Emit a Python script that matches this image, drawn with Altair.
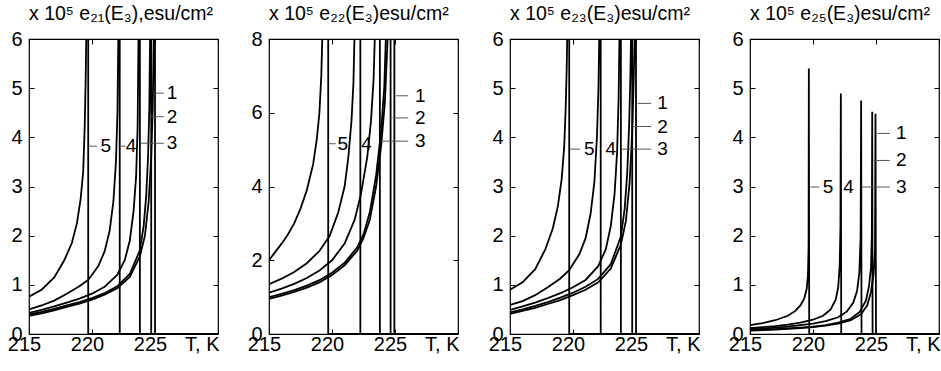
import altair as alt
import pandas as pd

FONT = "Liberation Sans"
T_MIN, T_MAX = 215, 230
X_TICKS = [215, 220, 225, 230]

# ---------------- panel 1 : e21 ----------------
E21_TITLE = "x 10⁵ e₂₁(E₃),esu/cm²"
E21_YMAX = 6
E21_YTICKS = [0, 1, 2, 3, 4, 5, 6]
E21_TC = [225.0, 224.7, 223.8, 222.2, 219.7]          # curves 1..5
e21_c1 = [(215, 0.37), (216, 0.42), (217, 0.48), (218, 0.55), (219, 0.62), (220, 0.70), (221, 0.80), (222, 0.93),
          (223, 1.16), (223.8, 1.58), (224.2, 2.0), (224.5, 2.7), (224.7, 3.6), (224.82, 4.6), (224.92, 6.3)]
e21_c2 = [(215, 0.40), (216, 0.45), (217, 0.51), (218, 0.58), (219, 0.65), (220, 0.73), (221, 0.83), (222, 0.97),
          (223, 1.22), (223.8, 1.7), (224.1, 2.2), (224.3, 2.8), (224.45, 3.6), (224.55, 4.6), (224.62, 6.3)]
e21_c3 = [(215, 0.43), (216, 0.49), (217, 0.56), (218, 0.64), (219, 0.72), (220, 0.82), (221, 0.96), (222, 1.2),
          (222.6, 1.5), (223.0, 1.9), (223.3, 2.5), (223.5, 3.2), (223.62, 4.2), (223.7, 6.3)]
e21_c4 = [(215, 0.50), (216, 0.58), (217, 0.68), (218, 0.82), (219, 0.97), (219.7, 1.1), (220.5, 1.38), (221, 1.68),
          (221.4, 2.1), (221.7, 2.7), (221.9, 3.5), (222.02, 4.5), (222.1, 6.3)]
e21_c5 = [(215, 0.76), (216, 0.90), (217, 1.15), (217.8, 1.5), (218.4, 1.85), (218.8, 2.25), (219.1, 2.75),
          (219.3, 3.3), (219.42, 4.2), (219.5, 5.2), (219.56, 6.3)]
# annotations: label, y, leader start, leader end, text x
E21_ANN = [("1", 4.90, 224.98, 225.7, 226.35), ("2", 4.42, 224.7, 225.7, 226.35), ("3", 3.88, 223.8, 225.7, 226.35),
           ("5", 3.82, 219.7, 220.4, 221.1), ("4", 3.82, 222.2, 222.65, 223.1)]

# ---------------- panel 2 : e22 ----------------
E22_TITLE = "x 10⁵   e₂₂(E₃)esu/cm²"
E22_YMAX = 8
E22_YTICKS = [0, 2, 4, 6, 8]
E22_TC = [224.95, 224.65, 223.8, 222.25, 219.7]
e22_c1 = [(215, 0.95), (216, 1.04), (217, 1.14), (218, 1.26), (219, 1.40), (220, 1.60), (221, 1.86), (222, 2.26),
          (222.5, 2.6), (223, 3.1), (223.5, 4.0), (223.9, 5.1), (224.2, 6.3), (224.45, 8.3)]
e22_c2 = [(215, 1.00), (216, 1.09), (217, 1.19), (218, 1.31), (219, 1.46), (220, 1.66), (221, 1.93), (222, 2.35),
          (222.5, 2.7), (223, 3.3), (223.5, 4.3), (223.9, 5.5), (224.15, 6.7), (224.3, 8.3)]
e22_c3 = [(215, 1.12), (216, 1.23), (217, 1.36), (218, 1.52), (219, 1.72), (220, 2.0), (221, 2.45), (221.8, 3.1),
          (222.3, 3.8), (222.8, 4.8), (223.1, 5.8), (223.3, 6.9), (223.42, 8.3)]
e22_c4 = [(215, 1.35), (216, 1.5), (217, 1.68), (218, 1.92), (219, 2.25), (219.8, 2.65), (220.5, 3.3), (221, 4.0),
          (221.3, 4.8), (221.55, 5.8), (221.7, 6.8), (221.8, 8.3)]
e22_c5 = [(215, 2.0), (216, 2.45), (216.5, 2.7), (217, 3.0), (217.5, 3.4), (218, 3.9), (218.5, 4.6), (218.8, 5.3),
          (219.0, 6.0), (219.15, 7.0), (219.25, 8.3)]
E22_ANN = [("1", 6.46, 225.1, 226.05, 227.0), ("2", 5.86, 224.8, 226.05, 227.0), ("3", 5.23, 223.9, 226.05, 227.0),
           ("5", 5.16, 219.75, 220.3, 220.86), ("4", 5.16, 222.25, 222.25, 222.75)]

# ---------------- panel 3 : e23 ----------------
E23_TITLE = "x 10⁵ e₂₃(E₃)esu/cm²"
E23_YMAX = 6
E23_YTICKS = [0, 1, 2, 3, 4, 5, 6]
E23_TC = [225.0, 224.7, 223.8, 222.2, 219.7]
e23_c1 = [(215, 0.41), (216, 0.47), (217, 0.53), (218, 0.61), (219, 0.69), (220, 0.79), (221, 0.90), (222, 1.05),
          (223, 1.33), (223.8, 1.82), (224.2, 2.3), (224.5, 3.1), (224.7, 4.1), (224.82, 5.2), (224.92, 6.3)]
e23_c2 = [(215, 0.44), (216, 0.50), (217, 0.57), (218, 0.65), (219, 0.74), (220, 0.84), (221, 0.96), (222, 1.12),
          (223, 1.42), (223.8, 1.98), (224.1, 2.55), (224.3, 3.25), (224.45, 4.2), (224.55, 5.2), (224.62, 6.3)]
e23_c3 = [(215, 0.49), (216, 0.56), (217, 0.64), (218, 0.73), (219, 0.83), (220, 0.95), (221, 1.1), (222, 1.38),
          (222.6, 1.72), (223.0, 2.2), (223.3, 2.85), (223.5, 3.7), (223.62, 4.8), (223.7, 6.3)]
e23_c4 = [(215, 0.59), (216, 0.67), (217, 0.79), (218, 0.95), (219, 1.13), (219.7, 1.3), (220.5, 1.62), (221, 1.95),
          (221.4, 2.45), (221.7, 3.1), (221.9, 4.0), (222.02, 5.0), (222.1, 6.3)]
e23_c5 = [(215, 0.90), (216, 1.05), (217, 1.32), (217.8, 1.72), (218.4, 2.15), (218.8, 2.6), (219.1, 3.15),
          (219.3, 3.8), (219.42, 4.6), (219.5, 5.4), (219.56, 6.3)]
E23_ANN = [("1", 4.69, 225.14, 226.2, 227.1), ("2", 4.22, 224.83, 226.2, 227.1), ("3", 3.76, 223.82, 226.2, 227.1),
           ("5", 3.76, 219.78, 220.58, 221.3), ("4", 3.76, 222.2, 222.2, 223.0)]

# ---------------- panel 4 : e25 ----------------
E25_TITLE = "x 10⁵ e₂₅(E₃)esu/cm²"
E25_YMAX = 6
E25_YTICKS = [0, 1, 2, 3, 4, 5, 6]
E25_TC = [225.0, 224.73, 223.85, 222.24, 219.7]
e25_c1 = [(215, 0.07), (217, 0.09), (219, 0.12), (220, 0.14), (221, 0.17), (222, 0.21), (223, 0.28), (223.8, 0.40),
          (224.3, 0.58), (224.6, 0.85), (224.8, 1.2), (224.92, 1.7), (224.96, 4.48)]
e25_c2 = [(215, 0.08), (217, 0.10), (219, 0.13), (220, 0.15), (221, 0.18), (222, 0.23), (223, 0.31), (223.7, 0.45),
          (224.2, 0.68), (224.45, 0.98), (224.6, 1.35), (224.67, 2.0), (224.7, 4.52)]
e25_c3 = [(215, 0.10), (216, 0.11), (217, 0.13), (218, 0.15), (219, 0.18), (220, 0.21), (221, 0.26), (222, 0.34),
          (222.7, 0.46), (223.2, 0.64), (223.5, 0.88), (223.68, 1.25), (223.78, 2.0), (223.82, 4.75)]
e25_c4 = [(215, 0.12), (216, 0.14), (217, 0.16), (218, 0.19), (219, 0.23), (220, 0.29), (220.8, 0.37), (221.4, 0.5),
          (221.8, 0.7), (222.0, 0.95), (222.12, 1.4), (222.18, 2.2), (222.21, 4.89)]
e25_c5 = [(215, 0.18), (216, 0.22), (217, 0.28), (218, 0.37), (218.6, 0.47), (219.0, 0.58), (219.3, 0.72),
          (219.5, 0.92), (219.6, 1.2), (219.65, 1.8), (219.67, 5.4)]
E25_ANN = [("1", 4.08, 225.1, 226.1, 227.0), ("2", 3.53, 224.8, 226.1, 227.0), ("3", 2.99, 223.86, 226.1, 227.0),
           ("5", 2.99, 219.8, 220.5, 221.2), ("4", 2.99, 222.24, 222.24, 222.82)]


def curves_frame(curves, tcs, ymax, diverging):
    rows = []
    for k, (pts, tc) in enumerate(zip(curves, tcs)):
        seq = list(pts)
        if diverging:
            seq.append((tc, ymax * 1.06))
        seq += [(tc, 0.0), (T_MAX, 0.0)]
        for i, (t, v) in enumerate(seq):
            rows.append({"curve": str(k + 1), "T": t, "v": v, "idx": i})
    return pd.DataFrame(rows)


def ann_frame(ann):
    return pd.DataFrame(ann, columns=["label", "y", "x0", "x1", "xt"])


def panel(title, ymax, yticks, cdf, adf):
    xs = alt.Scale(domain=[T_MIN, T_MAX], nice=False, zero=False)
    ys = alt.Scale(domain=[0, ymax], nice=False, zero=True)
    lab = dict(labelFont=FONT, labelFontSize=20, labelColor="black")
    x_axis = alt.Axis(values=X_TICKS, title=None, grid=False, domain=False, tickSize=5, offset=-5,
                      tickColor="black", labelPadding=0, labelFlush=False,
                      labelExpr="datum.value == 230 ? 'T, K' : datum.label",
                      labelAlign={"condition": {"test": "datum.value == 230", "value": "right"}, "value": "center"},
                      labelOffset={"condition": {"test": "datum.value == 230", "value": 1}, "value": -5},
                      **lab)
    y_axis = alt.Axis(values=yticks, title=None, grid=False, domain=False, tickSize=5, offset=-5,
                      tickColor="black", labelPadding=7, labelFlush=False, **lab)
    lines = alt.Chart(cdf).mark_line(color="black", strokeWidth=1.8, clip=True).encode(
        x=alt.X("T:Q", scale=xs, axis=x_axis),
        y=alt.Y("v:Q", scale=ys, axis=y_axis),
        detail="curve:N",
        order="idx:Q",
    )
    rules = alt.Chart(adf).mark_rule(color="#555555", strokeWidth=1).encode(
        x=alt.X("x0:Q", scale=xs, axis=alt.Axis(orient="top", values=X_TICKS, labels=False, domain=False,
                                                 tickSize=5, offset=-5, grid=False, title=None,
                                                 tickColor="black")),
        x2="x1:Q",
        y=alt.Y("y:Q", scale=ys, axis=alt.Axis(orient="right", values=yticks, labels=False, domain=False,
                                                tickSize=5, offset=-5, grid=False, title=None,
                                                tickColor="black")),
    )
    texts = alt.Chart(adf).mark_text(font=FONT, fontSize=19, color="black", align="center",
                                     baseline="middle").encode(
        x=alt.X("xt:Q", scale=xs, axis=None),
        y=alt.Y("y:Q", scale=ys, axis=None),
        text="label:N",
    )
    return alt.layer(lines, rules, texts).resolve_axis(x="independent", y="independent").properties(
        width=189, height=295,
        title=alt.TitleParams(title, anchor="start", frame="group", font=FONT, fontSize=19.5,
                              fontWeight="normal", color="black", offset=5),
    )


p1 = panel(E21_TITLE, E21_YMAX, E21_YTICKS,
           curves_frame([e21_c1, e21_c2, e21_c3, e21_c4, e21_c5], E21_TC, E21_YMAX, True), ann_frame(E21_ANN))
p2 = panel(E22_TITLE, E22_YMAX, E22_YTICKS,
           curves_frame([e22_c1, e22_c2, e22_c3, e22_c4, e22_c5], E22_TC, E22_YMAX, True), ann_frame(E22_ANN))
p3 = panel(E23_TITLE, E23_YMAX, E23_YTICKS,
           curves_frame([e23_c1, e23_c2, e23_c3, e23_c4, e23_c5], E23_TC, E23_YMAX, True), ann_frame(E23_ANN))
p4 = panel(E25_TITLE, E25_YMAX, E25_YTICKS,
           curves_frame([e25_c1, e25_c2, e25_c3, e25_c4, e25_c5], E25_TC, E25_YMAX, False), ann_frame(E25_ANN))

chart = alt.hconcat(p1, p2, p3, p4, spacing=26).properties(
    padding={"left": 6, "top": 2, "right": 0, "bottom": 2},
    background="white",
).configure_view(stroke="black", strokeWidth=1.2)

chart.save("out.html", embed_options={"renderer": "svg", "actions": False})
